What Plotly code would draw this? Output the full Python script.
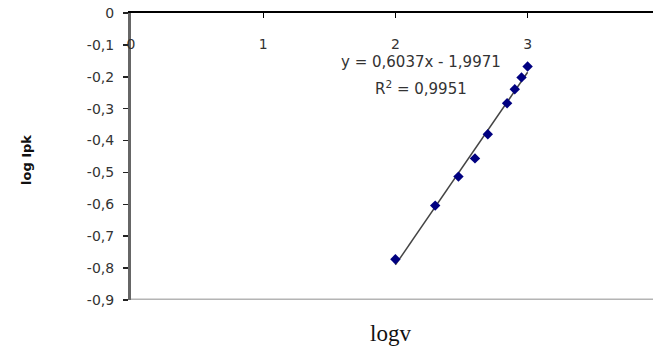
import numpy as np
import plotly.graph_objects as go

# data
log_v = [2.0, 2.301, 2.477, 2.602, 2.699, 2.845, 2.903, 2.954, 3.0]
log_ipk = [-0.772, -0.604, -0.513, -0.456, -0.380, -0.283, -0.239, -0.202, -0.168]

x_tickvals = [0, 1, 2, 3, 4]
x_ticktext = ["0", "1", "2", "3", "4"]
y_tickvals = [0, -0.1, -0.2, -0.3, -0.4, -0.5, -0.6, -0.7, -0.8, -0.9]
y_ticktext = ["0", "-0,1", "-0,2", "-0,3", "-0,4", "-0,5", "-0,6", "-0,7", "-0,8", "-0,9"]

eq_text = "y = 0,6037x - 1,9971"
r2_text = "R<sup>2</sup> = 0,9951"

# linear trendline fitted to the data (drawn over the data range)
slope, intercept = np.polyfit(log_v, log_ipk, 1)
trend_x = [min(log_v), max(log_v)]
trend_y = [slope * v + intercept for v in trend_x]

W, H = 653, 358
L, R, T, B = 131, 0, 13, 58
PH = H - T - B
px_per_unit = 132.2
x_max = (W - L - R) / px_per_unit

fig = go.Figure()
fig.add_trace(go.Scatter(x=trend_x, y=trend_y, mode="lines",
                         line=dict(color="#444444", width=1.5), showlegend=False))
fig.add_trace(go.Scatter(x=log_v, y=log_ipk, mode="markers",
                         marker=dict(symbol="diamond", size=8, color="#000080"),
                         showlegend=False))
# invisible helper trace so the label axis exists
fig.add_trace(go.Scatter(x=[None], y=[None], xaxis="x2", yaxis="y",
                         showlegend=False, hoverinfo="skip"))

tick_font = dict(family="DejaVu Sans", size=14, color="#333333")

fig.update_layout(
    width=W, height=H,
    margin=dict(l=L, r=R, t=T, b=B, pad=0),
    paper_bgcolor="white", plot_bgcolor="white",
    showlegend=False,
    xaxis=dict(range=[0, x_max], side="top", showline=True, linecolor="black", linewidth=2,
               ticks="inside", ticklen=5, tickcolor="black", tickwidth=1,
               tickvals=x_tickvals, showticklabels=False,
               showgrid=False, zeroline=False, fixedrange=True),
    xaxis2=dict(range=[0, x_max], overlaying="x", anchor="free", side="bottom",
                position=1 - 19 / PH, showline=False, ticks="",
                tickvals=x_tickvals, ticktext=x_ticktext, ticklabelstandoff=2,
                tickfont=tick_font, showgrid=False, zeroline=False, fixedrange=True),
    yaxis=dict(range=[-0.9, 0], showline=True, linecolor="#666666", linewidth=3,
               ticks="outside", ticklen=5, tickcolor="#222222", tickwidth=1.5,
               tickvals=y_tickvals, ticktext=y_ticktext, ticklabelstandoff=6,
               tickfont=tick_font, showgrid=False, zeroline=False, fixedrange=True),
    shapes=[dict(type="line", xref="paper", yref="y", x0=0, x1=1, y0=-0.9, y1=-0.9,
                 line=dict(color="#b4b4b4", width=3))],
    annotations=[
        dict(x=2.194, y=-0.153, xref="x", yref="y", text=eq_text, showarrow=False,
             font=dict(family="DejaVu Sans", size=15, color="#333333"),
             xanchor="center", yanchor="middle"),
        dict(x=2.194, y=-0.235, xref="x", yref="y", text=r2_text, showarrow=False,
             font=dict(family="DejaVu Sans", size=15, color="#333333"),
             xanchor="center", yanchor="middle"),
        dict(x=(26 - L) / (W - L - R), y=1 - (160 - T) / PH, xref="paper", yref="paper",
             text="<b>log Ipk</b>", textangle=-90, showarrow=False,
             font=dict(family="DejaVu Sans", size=13, color="#111111"),
             xanchor="center", yanchor="middle"),
        dict(x=(390 - L) / (W - L - R), y=-(333 - (H - B)) / PH, xref="paper", yref="paper",
             text="logv", showarrow=False,
             font=dict(family="Liberation Serif", size=23, color="#111111"),
             xanchor="center", yanchor="middle"),
    ],
)

fig.write_html("out.html",
               config={"displayModeBar": False, "staticPlot": True},
               post_script="document.body.style.margin='0';document.body.style.overflow='hidden';")
